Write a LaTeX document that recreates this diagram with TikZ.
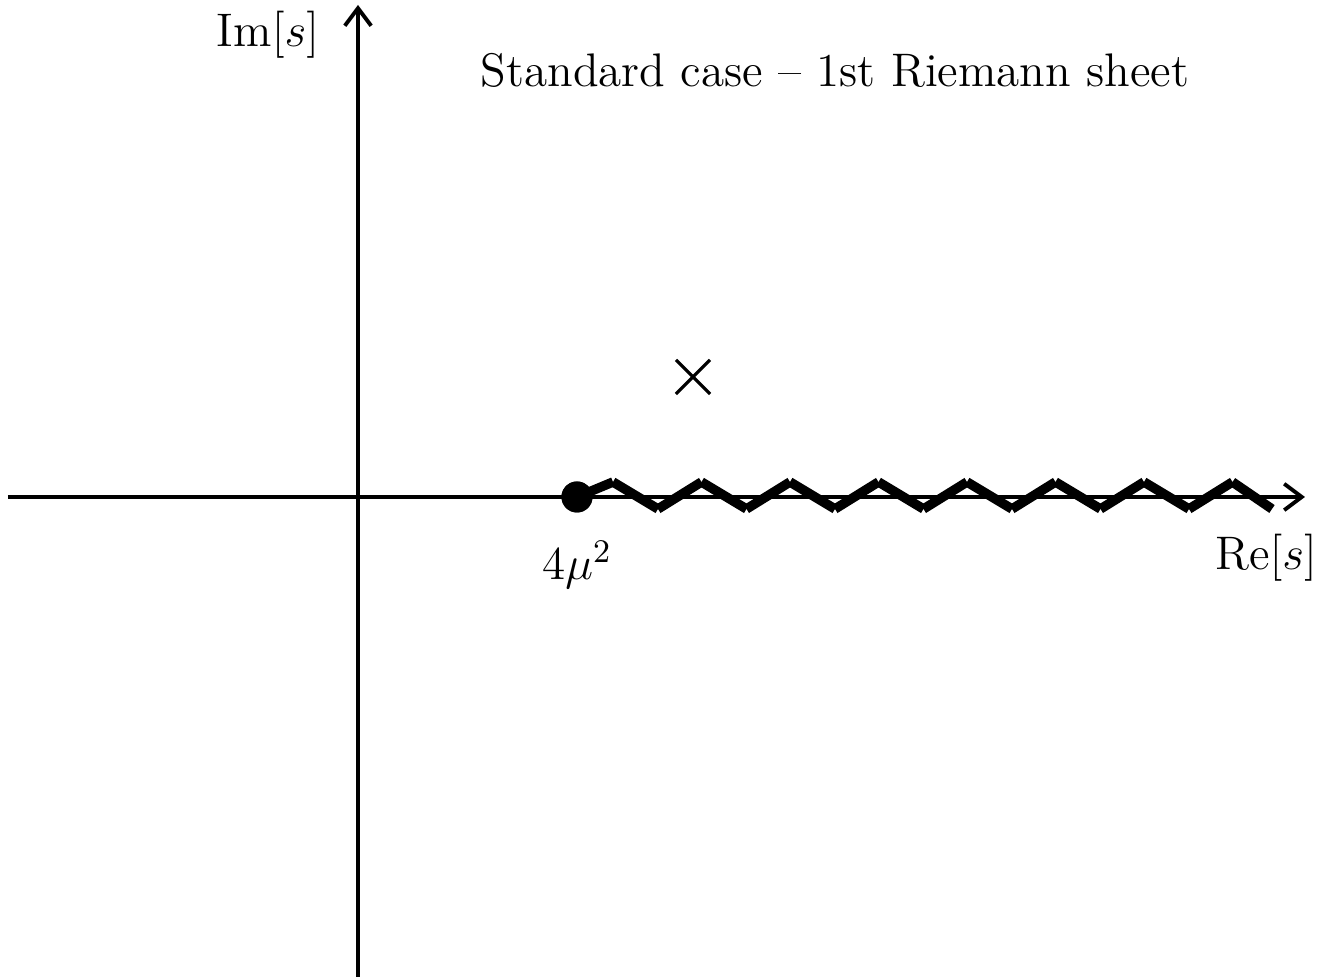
\documentclass[tikz,border=0pt]{standalone}
\usepackage{fix-cm}
\usepackage{fontspec}
\usepackage{amsmath}
\usepackage{tikz}
\usetikzlibrary{arrows.meta, shapes.misc}

\tikzset{
  axis/.style={line width=1.1pt, -{Straight Barb[length=5pt,width=7.5pt]}},
  cut/.style={line width=2.7pt, line cap=butt},
}

\begin{document}
\begin{tikzpicture}[font=\fontsize{13.4}{16}\selectfont]
\useasboundingbox (-3.58,-4.80) rectangle (9.63,4.97);
% axes
\coordinate (xl) at (-3.5,0);
\coordinate (xr) at (9.47,0);
\coordinate (yb) at (0,-4.80);
\coordinate (yt) at (0,4.92);
\draw[axis] (xl) -- (xr);
\draw[axis] (yb) -- (yt);
\node (relab) at (9.08,-0.61) {$\mathrm{Re}[s]$};
\node (imlab) at (-0.90,4.62) {$\mathrm{Im}[s]$};
% branch cut
\node[circle, fill, inner sep=0pt, minimum size=0.31cm] (thr) at (2.19,0) {};
\draw[cut] (thr.center) -- (2.55,0.15);
\foreach \k in {0,...,6} {
  \draw[cut] ({2.55+0.885*\k},0.15) -- ({3.00+0.885*\k},-0.12);
  \draw[cut] ({3.00+0.885*\k},-0.12) -- ({3.435+0.885*\k},0.15);
}
\draw[cut] (8.745,0.15) -- (9.14,-0.12);
\node[circle, fill, inner sep=0pt, minimum size=0.31cm] at (thr) {};
\node (thrlab) at (2.19,-0.68) {$4\mu^2$};
% pole
\node[cross out, draw, line width=0.9pt, inner sep=0pt, minimum size=0.31cm] (pole) at (3.35,1.20) {};
\node (title) at (4.77,4.27) {Standard case -- 1st Riemann sheet};
\end{tikzpicture}
\end{document}
